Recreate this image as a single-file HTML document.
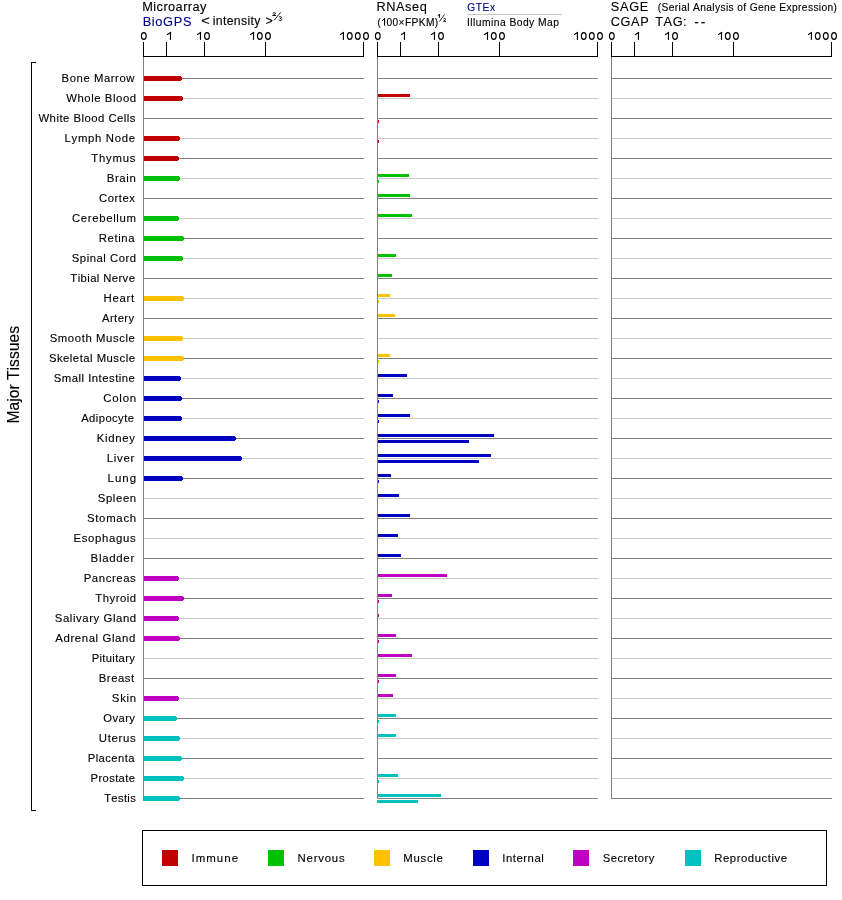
<!DOCTYPE html>
<html><head><meta charset="utf-8"><style>
html,body{margin:0;padding:0;background:#fff;}
svg{display:block;will-change:transform;}
text{font-family:"Liberation Sans",sans-serif;font-kerning:none;}
</style></head><body>
<svg width="842" height="900" viewBox="0 0 842 900">
<rect width="842" height="900" fill="#fff"/>
<text transform="translate(142.25,11) scale(1.0225,1)" font-size="12.5" fill="#000" stroke="#000" stroke-width="0.12" letter-spacing="0.425">Microarray</text>
<text transform="translate(142.65,26) scale(1.0253,1)" font-size="12.5" fill="#00008b" stroke="#00008b" stroke-width="0.12" letter-spacing="0.634">BioGPS</text>
<text transform="translate(201.28,24.6) scale(1.2178,1)" font-size="12" fill="#000" stroke="#000" stroke-width="0.12">&lt;</text>
<text transform="translate(212.68,24.8) scale(1.0220,1)" font-size="12" fill="#000" stroke="#000" stroke-width="0.12" letter-spacing="0.349">intensity</text>
<text transform="translate(265.39,24.6) scale(1.0291,1)" font-size="12" fill="#000" stroke="#000" stroke-width="0.12">&gt;</text>
<path d="M272.7,13.4 Q273.4,12.5 274.4,12.6 Q275.6,12.8 275.3,13.9 Q275,14.4 272.6,15.5 L276.1,15.5" stroke="#000" stroke-width="0.95" fill="none"/>
<path d="M278.8,17.2 Q279.6,16.5 280.5,16.6 Q281.7,16.8 281.4,17.8 Q281.1,18.4 279.9,18.5 Q281.9,18.7 281.8,19.6 Q281.5,20.6 280.2,20.5 Q279.2,20.5 278.6,19.8" stroke="#000" stroke-width="0.95" fill="none"/>
<path d="M280.6,12.4 L274.0,20.4" stroke="#000" stroke-width="0.9" fill="none"/>
<text transform="translate(376.45,11) scale(1.0211,1)" font-size="12.5" fill="#000" stroke="#000" stroke-width="0.12" letter-spacing="0.555">RNAseq</text>
<text transform="translate(377.39,26) scale(0.9806,1)" font-size="10" fill="#000" stroke="#000" stroke-width="0.12">(</text>
<rect x="384.0" y="18.1" width="1.1" height="7.5" fill="#000"/>
<path d="M384.8,18.4 L382.3,20.5" stroke="#000" stroke-width="1.0" fill="none" stroke-linecap="round"/>
<text transform="translate(386.50,26) scale(1.0193,1)" font-size="10" fill="#000" stroke="#000" stroke-width="0.12" letter-spacing="0.383">00×FPKM)</text>
<rect x="438.95" y="14.2" width="1.0" height="3.5" fill="#000"/>
<path d="M439.5,14.5 L438.0,15.5" stroke="#000" stroke-width="0.9" fill="none" stroke-linecap="round"/>
<path d="M444.5,14.4 L439.5,21.5" stroke="#000" stroke-width="0.85" fill="none"/>
<path d="M443.5,19.0 Q444.1,18.3 444.8,18.4 Q445.7,18.6 445.5,19.4 Q445.2,20.0 443.4,21.35 L446.0,21.35" stroke="#000" stroke-width="0.9" fill="none"/>
<text transform="translate(467.29,11) scale(1.0226,1)" font-size="10" fill="#00008b" stroke="#00008b" stroke-width="0.12" letter-spacing="0.551">GTEx</text>
<rect x="467" y="14" width="95" height="1" fill="#c8c8c8"/>
<text transform="translate(467.05,26) scale(1.0299,1)" font-size="10" fill="#000" stroke="#000" stroke-width="0.12" letter-spacing="0.441">Illumina Body Map</text>
<text transform="translate(610.82,11) scale(1.0206,1)" font-size="12.5" fill="#000" stroke="#000" stroke-width="0.12" letter-spacing="0.678">SAGE</text>
<text transform="translate(657.76,11) scale(1.0258,1)" font-size="10" fill="#000" stroke="#000" stroke-width="0.12" letter-spacing="0.349">(Serial Analysis of Gene Expression)</text>
<text transform="translate(610.75,26) scale(1.0181,1)" font-size="12.5" fill="#000" stroke="#000" stroke-width="0.12" letter-spacing="0.606">CGAP</text>
<text transform="translate(655.31,26) scale(1.0194,1)" font-size="12.5" fill="#000" stroke="#000" stroke-width="0.12" letter-spacing="0.528">TAG:</text>
<text transform="translate(694.19,26) scale(1.0965,1)" font-size="12.5" fill="#000" stroke="#000" stroke-width="0.12" letter-spacing="1.905">--</text>
<rect x="143" y="78" width="221" height="1" fill="#808080"/>
<rect x="143" y="98" width="221" height="1" fill="#c8c8c8"/>
<rect x="143" y="118" width="221" height="1" fill="#808080"/>
<rect x="143" y="138" width="221" height="1" fill="#c8c8c8"/>
<rect x="143" y="158" width="221" height="1" fill="#808080"/>
<rect x="143" y="178" width="221" height="1" fill="#c8c8c8"/>
<rect x="143" y="198" width="221" height="1" fill="#808080"/>
<rect x="143" y="218" width="221" height="1" fill="#c8c8c8"/>
<rect x="143" y="238" width="221" height="1" fill="#808080"/>
<rect x="143" y="258" width="221" height="1" fill="#c8c8c8"/>
<rect x="143" y="278" width="221" height="1" fill="#808080"/>
<rect x="143" y="298" width="221" height="1" fill="#c8c8c8"/>
<rect x="143" y="318" width="221" height="1" fill="#808080"/>
<rect x="143" y="338" width="221" height="1" fill="#c8c8c8"/>
<rect x="143" y="358" width="221" height="1" fill="#808080"/>
<rect x="143" y="378" width="221" height="1" fill="#c8c8c8"/>
<rect x="143" y="398" width="221" height="1" fill="#808080"/>
<rect x="143" y="418" width="221" height="1" fill="#c8c8c8"/>
<rect x="143" y="438" width="221" height="1" fill="#808080"/>
<rect x="143" y="458" width="221" height="1" fill="#c8c8c8"/>
<rect x="143" y="478" width="221" height="1" fill="#808080"/>
<rect x="143" y="498" width="221" height="1" fill="#c8c8c8"/>
<rect x="143" y="518" width="221" height="1" fill="#808080"/>
<rect x="143" y="538" width="221" height="1" fill="#c8c8c8"/>
<rect x="143" y="558" width="221" height="1" fill="#808080"/>
<rect x="143" y="578" width="221" height="1" fill="#c8c8c8"/>
<rect x="143" y="598" width="221" height="1" fill="#808080"/>
<rect x="143" y="618" width="221" height="1" fill="#c8c8c8"/>
<rect x="143" y="638" width="221" height="1" fill="#808080"/>
<rect x="143" y="658" width="221" height="1" fill="#c8c8c8"/>
<rect x="143" y="678" width="221" height="1" fill="#808080"/>
<rect x="143" y="698" width="221" height="1" fill="#c8c8c8"/>
<rect x="143" y="718" width="221" height="1" fill="#808080"/>
<rect x="143" y="738" width="221" height="1" fill="#c8c8c8"/>
<rect x="143" y="758" width="221" height="1" fill="#808080"/>
<rect x="143" y="778" width="221" height="1" fill="#c8c8c8"/>
<rect x="143" y="798" width="221" height="1" fill="#808080"/>
<rect x="143" y="56" width="221" height="1" fill="#000"/>
<rect x="143" y="42" width="1" height="15" fill="#000"/>
<rect x="166" y="42" width="1" height="15" fill="#000"/>
<rect x="204" y="42" width="1" height="15" fill="#000"/>
<rect x="265" y="42" width="1" height="15" fill="#000"/>
<rect x="363" y="42" width="1" height="15" fill="#000"/>
<ellipse cx="143.80" cy="35.95" rx="2.38" ry="3.38" fill="none" stroke="#000" stroke-width="1.15"/>
<rect x="169.87" y="32" width="1.16" height="7.9" fill="#000"/>
<path d="M170.65,32.4 L167.50,34.5" stroke="#000" stroke-width="1.1" fill="none" stroke-linecap="round"/>
<rect x="199.88" y="32" width="1.16" height="7.9" fill="#000"/>
<path d="M200.66,32.4 L197.51,34.5" stroke="#000" stroke-width="1.1" fill="none" stroke-linecap="round"/>
<ellipse cx="207.00" cy="35.95" rx="2.38" ry="3.38" fill="none" stroke="#000" stroke-width="1.15"/>
<rect x="252.92" y="32" width="1.16" height="7.9" fill="#000"/>
<path d="M253.70,32.4 L250.55,34.5" stroke="#000" stroke-width="1.1" fill="none" stroke-linecap="round"/>
<ellipse cx="259.80" cy="35.95" rx="2.38" ry="3.38" fill="none" stroke="#000" stroke-width="1.15"/>
<ellipse cx="267.95" cy="35.95" rx="2.38" ry="3.38" fill="none" stroke="#000" stroke-width="1.15"/>
<rect x="342.82" y="32" width="1.16" height="7.9" fill="#000"/>
<path d="M343.60,32.4 L340.45,34.5" stroke="#000" stroke-width="1.1" fill="none" stroke-linecap="round"/>
<ellipse cx="349.75" cy="35.95" rx="2.38" ry="3.38" fill="none" stroke="#000" stroke-width="1.15"/>
<ellipse cx="357.80" cy="35.95" rx="2.38" ry="3.38" fill="none" stroke="#000" stroke-width="1.15"/>
<ellipse cx="366.00" cy="35.95" rx="2.38" ry="3.38" fill="none" stroke="#000" stroke-width="1.15"/>
<rect x="377" y="78" width="221" height="1" fill="#808080"/>
<rect x="377" y="98" width="221" height="1" fill="#c8c8c8"/>
<rect x="377" y="118" width="221" height="1" fill="#808080"/>
<rect x="377" y="138" width="221" height="1" fill="#c8c8c8"/>
<rect x="377" y="158" width="221" height="1" fill="#808080"/>
<rect x="377" y="178" width="221" height="1" fill="#c8c8c8"/>
<rect x="377" y="198" width="221" height="1" fill="#808080"/>
<rect x="377" y="218" width="221" height="1" fill="#c8c8c8"/>
<rect x="377" y="238" width="221" height="1" fill="#808080"/>
<rect x="377" y="258" width="221" height="1" fill="#c8c8c8"/>
<rect x="377" y="278" width="221" height="1" fill="#808080"/>
<rect x="377" y="298" width="221" height="1" fill="#c8c8c8"/>
<rect x="377" y="318" width="221" height="1" fill="#808080"/>
<rect x="377" y="338" width="221" height="1" fill="#c8c8c8"/>
<rect x="377" y="358" width="221" height="1" fill="#808080"/>
<rect x="377" y="378" width="221" height="1" fill="#c8c8c8"/>
<rect x="377" y="398" width="221" height="1" fill="#808080"/>
<rect x="377" y="418" width="221" height="1" fill="#c8c8c8"/>
<rect x="377" y="438" width="221" height="1" fill="#808080"/>
<rect x="377" y="458" width="221" height="1" fill="#c8c8c8"/>
<rect x="377" y="478" width="221" height="1" fill="#808080"/>
<rect x="377" y="498" width="221" height="1" fill="#c8c8c8"/>
<rect x="377" y="518" width="221" height="1" fill="#808080"/>
<rect x="377" y="538" width="221" height="1" fill="#c8c8c8"/>
<rect x="377" y="558" width="221" height="1" fill="#808080"/>
<rect x="377" y="578" width="221" height="1" fill="#c8c8c8"/>
<rect x="377" y="598" width="221" height="1" fill="#808080"/>
<rect x="377" y="618" width="221" height="1" fill="#c8c8c8"/>
<rect x="377" y="638" width="221" height="1" fill="#808080"/>
<rect x="377" y="658" width="221" height="1" fill="#c8c8c8"/>
<rect x="377" y="678" width="221" height="1" fill="#808080"/>
<rect x="377" y="698" width="221" height="1" fill="#c8c8c8"/>
<rect x="377" y="718" width="221" height="1" fill="#808080"/>
<rect x="377" y="738" width="221" height="1" fill="#c8c8c8"/>
<rect x="377" y="758" width="221" height="1" fill="#808080"/>
<rect x="377" y="778" width="221" height="1" fill="#c8c8c8"/>
<rect x="377" y="798" width="221" height="1" fill="#808080"/>
<rect x="377" y="56" width="221" height="1" fill="#000"/>
<rect x="377" y="42" width="1" height="15" fill="#000"/>
<rect x="400" y="42" width="1" height="15" fill="#000"/>
<rect x="438" y="42" width="1" height="15" fill="#000"/>
<rect x="499" y="42" width="1" height="15" fill="#000"/>
<rect x="597" y="42" width="1" height="15" fill="#000"/>
<ellipse cx="377.80" cy="35.95" rx="2.38" ry="3.38" fill="none" stroke="#000" stroke-width="1.15"/>
<rect x="403.87" y="32" width="1.16" height="7.9" fill="#000"/>
<path d="M404.65,32.4 L401.50,34.5" stroke="#000" stroke-width="1.1" fill="none" stroke-linecap="round"/>
<rect x="433.88" y="32" width="1.16" height="7.9" fill="#000"/>
<path d="M434.66,32.4 L431.51,34.5" stroke="#000" stroke-width="1.1" fill="none" stroke-linecap="round"/>
<ellipse cx="441.00" cy="35.95" rx="2.38" ry="3.38" fill="none" stroke="#000" stroke-width="1.15"/>
<rect x="486.92" y="32" width="1.16" height="7.9" fill="#000"/>
<path d="M487.70,32.4 L484.55,34.5" stroke="#000" stroke-width="1.1" fill="none" stroke-linecap="round"/>
<ellipse cx="493.80" cy="35.95" rx="2.38" ry="3.38" fill="none" stroke="#000" stroke-width="1.15"/>
<ellipse cx="501.95" cy="35.95" rx="2.38" ry="3.38" fill="none" stroke="#000" stroke-width="1.15"/>
<rect x="576.82" y="32" width="1.16" height="7.9" fill="#000"/>
<path d="M577.60,32.4 L574.45,34.5" stroke="#000" stroke-width="1.1" fill="none" stroke-linecap="round"/>
<ellipse cx="583.75" cy="35.95" rx="2.38" ry="3.38" fill="none" stroke="#000" stroke-width="1.15"/>
<ellipse cx="591.80" cy="35.95" rx="2.38" ry="3.38" fill="none" stroke="#000" stroke-width="1.15"/>
<ellipse cx="600.00" cy="35.95" rx="2.38" ry="3.38" fill="none" stroke="#000" stroke-width="1.15"/>
<rect x="611" y="78" width="221" height="1" fill="#808080"/>
<rect x="611" y="98" width="221" height="1" fill="#c8c8c8"/>
<rect x="611" y="118" width="221" height="1" fill="#808080"/>
<rect x="611" y="138" width="221" height="1" fill="#c8c8c8"/>
<rect x="611" y="158" width="221" height="1" fill="#808080"/>
<rect x="611" y="178" width="221" height="1" fill="#c8c8c8"/>
<rect x="611" y="198" width="221" height="1" fill="#808080"/>
<rect x="611" y="218" width="221" height="1" fill="#c8c8c8"/>
<rect x="611" y="238" width="221" height="1" fill="#808080"/>
<rect x="611" y="258" width="221" height="1" fill="#c8c8c8"/>
<rect x="611" y="278" width="221" height="1" fill="#808080"/>
<rect x="611" y="298" width="221" height="1" fill="#c8c8c8"/>
<rect x="611" y="318" width="221" height="1" fill="#808080"/>
<rect x="611" y="338" width="221" height="1" fill="#c8c8c8"/>
<rect x="611" y="358" width="221" height="1" fill="#808080"/>
<rect x="611" y="378" width="221" height="1" fill="#c8c8c8"/>
<rect x="611" y="398" width="221" height="1" fill="#808080"/>
<rect x="611" y="418" width="221" height="1" fill="#c8c8c8"/>
<rect x="611" y="438" width="221" height="1" fill="#808080"/>
<rect x="611" y="458" width="221" height="1" fill="#c8c8c8"/>
<rect x="611" y="478" width="221" height="1" fill="#808080"/>
<rect x="611" y="498" width="221" height="1" fill="#c8c8c8"/>
<rect x="611" y="518" width="221" height="1" fill="#808080"/>
<rect x="611" y="538" width="221" height="1" fill="#c8c8c8"/>
<rect x="611" y="558" width="221" height="1" fill="#808080"/>
<rect x="611" y="578" width="221" height="1" fill="#c8c8c8"/>
<rect x="611" y="598" width="221" height="1" fill="#808080"/>
<rect x="611" y="618" width="221" height="1" fill="#c8c8c8"/>
<rect x="611" y="638" width="221" height="1" fill="#808080"/>
<rect x="611" y="658" width="221" height="1" fill="#c8c8c8"/>
<rect x="611" y="678" width="221" height="1" fill="#808080"/>
<rect x="611" y="698" width="221" height="1" fill="#c8c8c8"/>
<rect x="611" y="718" width="221" height="1" fill="#808080"/>
<rect x="611" y="738" width="221" height="1" fill="#c8c8c8"/>
<rect x="611" y="758" width="221" height="1" fill="#808080"/>
<rect x="611" y="778" width="221" height="1" fill="#c8c8c8"/>
<rect x="611" y="798" width="221" height="1" fill="#808080"/>
<rect x="611" y="56" width="221" height="1" fill="#000"/>
<rect x="611" y="42" width="1" height="15" fill="#000"/>
<rect x="634" y="42" width="1" height="15" fill="#000"/>
<rect x="672" y="42" width="1" height="15" fill="#000"/>
<rect x="733" y="42" width="1" height="15" fill="#000"/>
<rect x="831" y="42" width="1" height="15" fill="#000"/>
<ellipse cx="611.80" cy="35.95" rx="2.38" ry="3.38" fill="none" stroke="#000" stroke-width="1.15"/>
<rect x="637.87" y="32" width="1.16" height="7.9" fill="#000"/>
<path d="M638.65,32.4 L635.50,34.5" stroke="#000" stroke-width="1.1" fill="none" stroke-linecap="round"/>
<rect x="667.88" y="32" width="1.16" height="7.9" fill="#000"/>
<path d="M668.66,32.4 L665.51,34.5" stroke="#000" stroke-width="1.1" fill="none" stroke-linecap="round"/>
<ellipse cx="675.00" cy="35.95" rx="2.38" ry="3.38" fill="none" stroke="#000" stroke-width="1.15"/>
<rect x="720.92" y="32" width="1.16" height="7.9" fill="#000"/>
<path d="M721.70,32.4 L718.55,34.5" stroke="#000" stroke-width="1.1" fill="none" stroke-linecap="round"/>
<ellipse cx="727.80" cy="35.95" rx="2.38" ry="3.38" fill="none" stroke="#000" stroke-width="1.15"/>
<ellipse cx="735.95" cy="35.95" rx="2.38" ry="3.38" fill="none" stroke="#000" stroke-width="1.15"/>
<rect x="810.82" y="32" width="1.16" height="7.9" fill="#000"/>
<path d="M811.60,32.4 L808.45,34.5" stroke="#000" stroke-width="1.1" fill="none" stroke-linecap="round"/>
<ellipse cx="817.75" cy="35.95" rx="2.38" ry="3.38" fill="none" stroke="#000" stroke-width="1.15"/>
<ellipse cx="825.80" cy="35.95" rx="2.38" ry="3.38" fill="none" stroke="#000" stroke-width="1.15"/>
<ellipse cx="834.00" cy="35.95" rx="2.38" ry="3.38" fill="none" stroke="#000" stroke-width="1.15"/>
<rect x="143" y="76" width="38" height="5" fill="#c00000"/>
<rect x="181" y="77" width="1" height="3" fill="#c00000"/>
<rect x="143" y="96" width="39" height="5" fill="#c00000"/>
<rect x="182" y="97" width="1" height="3" fill="#c00000"/>
<rect x="377" y="94" width="33" height="3" fill="#c00000"/>
<rect x="377" y="120" width="2" height="3" fill="#c00000"/>
<rect x="143" y="136" width="36" height="5" fill="#c00000"/>
<rect x="179" y="137" width="1" height="3" fill="#c00000"/>
<rect x="377" y="140" width="2" height="3" fill="#c00000"/>
<rect x="143" y="156" width="35" height="5" fill="#c00000"/>
<rect x="178" y="157" width="1" height="3" fill="#c00000"/>
<rect x="143" y="176" width="36" height="5" fill="#00c000"/>
<rect x="179" y="177" width="1" height="3" fill="#00c000"/>
<rect x="377" y="174" width="32" height="3" fill="#00c000"/>
<rect x="377" y="180" width="2" height="3" fill="#00c000"/>
<rect x="377" y="194" width="33" height="3" fill="#00c000"/>
<rect x="143" y="216" width="35" height="5" fill="#00c000"/>
<rect x="178" y="217" width="1" height="3" fill="#00c000"/>
<rect x="377" y="214" width="35" height="3" fill="#00c000"/>
<rect x="143" y="236" width="40" height="5" fill="#00c000"/>
<rect x="183" y="237" width="1" height="3" fill="#00c000"/>
<rect x="143" y="256" width="39" height="5" fill="#00c000"/>
<rect x="182" y="257" width="1" height="3" fill="#00c000"/>
<rect x="377" y="254" width="19" height="3" fill="#00c000"/>
<rect x="377" y="274" width="15" height="3" fill="#00c000"/>
<rect x="143" y="296" width="40" height="5" fill="#ffc000"/>
<rect x="183" y="297" width="1" height="3" fill="#ffc000"/>
<rect x="377" y="294" width="13" height="3" fill="#ffc000"/>
<rect x="377" y="300" width="2" height="3" fill="#ffc000"/>
<rect x="377" y="314" width="18" height="3" fill="#ffc000"/>
<rect x="143" y="336" width="39" height="5" fill="#ffc000"/>
<rect x="182" y="337" width="1" height="3" fill="#ffc000"/>
<rect x="143" y="356" width="40" height="5" fill="#ffc000"/>
<rect x="183" y="357" width="1" height="3" fill="#ffc000"/>
<rect x="377" y="354" width="13" height="3" fill="#ffc000"/>
<rect x="377" y="360" width="2" height="3" fill="#ffc000"/>
<rect x="143" y="376" width="37" height="5" fill="#0000c0"/>
<rect x="180" y="377" width="1" height="3" fill="#0000c0"/>
<rect x="377" y="374" width="30" height="3" fill="#0000c0"/>
<rect x="143" y="396" width="38" height="5" fill="#0000c0"/>
<rect x="181" y="397" width="1" height="3" fill="#0000c0"/>
<rect x="377" y="394" width="16" height="3" fill="#0000c0"/>
<rect x="377" y="400" width="2" height="3" fill="#0000c0"/>
<rect x="143" y="416" width="38" height="5" fill="#0000c0"/>
<rect x="181" y="417" width="1" height="3" fill="#0000c0"/>
<rect x="377" y="414" width="33" height="3" fill="#0000c0"/>
<rect x="377" y="420" width="2" height="3" fill="#0000c0"/>
<rect x="143" y="436" width="92" height="5" fill="#0000c0"/>
<rect x="235" y="437" width="1" height="3" fill="#0000c0"/>
<rect x="377" y="434" width="117" height="3" fill="#0000c0"/>
<rect x="377" y="440" width="92" height="3" fill="#0000c0"/>
<rect x="143" y="456" width="98" height="5" fill="#0000c0"/>
<rect x="241" y="457" width="1" height="3" fill="#0000c0"/>
<rect x="377" y="454" width="114" height="3" fill="#0000c0"/>
<rect x="377" y="460" width="102" height="3" fill="#0000c0"/>
<rect x="143" y="476" width="39" height="5" fill="#0000c0"/>
<rect x="182" y="477" width="1" height="3" fill="#0000c0"/>
<rect x="377" y="474" width="14" height="3" fill="#0000c0"/>
<rect x="377" y="480" width="2" height="3" fill="#0000c0"/>
<rect x="377" y="494" width="22" height="3" fill="#0000c0"/>
<rect x="377" y="514" width="33" height="3" fill="#0000c0"/>
<rect x="377" y="534" width="21" height="3" fill="#0000c0"/>
<rect x="377" y="554" width="24" height="3" fill="#0000c0"/>
<rect x="143" y="576" width="35" height="5" fill="#c000c0"/>
<rect x="178" y="577" width="1" height="3" fill="#c000c0"/>
<rect x="377" y="574" width="70" height="3" fill="#c000c0"/>
<rect x="143" y="596" width="40" height="5" fill="#c000c0"/>
<rect x="183" y="597" width="1" height="3" fill="#c000c0"/>
<rect x="377" y="594" width="15" height="3" fill="#c000c0"/>
<rect x="377" y="600" width="2" height="3" fill="#c000c0"/>
<rect x="143" y="616" width="35" height="5" fill="#c000c0"/>
<rect x="178" y="617" width="1" height="3" fill="#c000c0"/>
<rect x="377" y="614" width="2" height="3" fill="#c000c0"/>
<rect x="143" y="636" width="36" height="5" fill="#c000c0"/>
<rect x="179" y="637" width="1" height="3" fill="#c000c0"/>
<rect x="377" y="634" width="19" height="3" fill="#c000c0"/>
<rect x="377" y="640" width="2" height="3" fill="#c000c0"/>
<rect x="377" y="654" width="35" height="3" fill="#c000c0"/>
<rect x="377" y="674" width="19" height="3" fill="#c000c0"/>
<rect x="377" y="680" width="2" height="3" fill="#c000c0"/>
<rect x="143" y="696" width="35" height="5" fill="#c000c0"/>
<rect x="178" y="697" width="1" height="3" fill="#c000c0"/>
<rect x="377" y="694" width="16" height="3" fill="#c000c0"/>
<rect x="143" y="716" width="33" height="5" fill="#00c0c0"/>
<rect x="176" y="717" width="1" height="3" fill="#00c0c0"/>
<rect x="377" y="714" width="19" height="3" fill="#00c0c0"/>
<rect x="377" y="720" width="2" height="3" fill="#00c0c0"/>
<rect x="143" y="736" width="36" height="5" fill="#00c0c0"/>
<rect x="179" y="737" width="1" height="3" fill="#00c0c0"/>
<rect x="377" y="734" width="19" height="3" fill="#00c0c0"/>
<rect x="143" y="756" width="38" height="5" fill="#00c0c0"/>
<rect x="181" y="757" width="1" height="3" fill="#00c0c0"/>
<rect x="143" y="776" width="40" height="5" fill="#00c0c0"/>
<rect x="183" y="777" width="1" height="3" fill="#00c0c0"/>
<rect x="377" y="774" width="21" height="3" fill="#00c0c0"/>
<rect x="377" y="780" width="2" height="3" fill="#00c0c0"/>
<rect x="143" y="796" width="36" height="5" fill="#00c0c0"/>
<rect x="179" y="797" width="1" height="3" fill="#00c0c0"/>
<rect x="377" y="794" width="64" height="3" fill="#00c0c0"/>
<rect x="377" y="800" width="41" height="3" fill="#00c0c0"/>
<rect x="143" y="57" width="1" height="741" fill="#808080"/>
<rect x="377" y="57" width="1" height="741" fill="#808080"/>
<rect x="611" y="57" width="1" height="741" fill="#808080"/>
<text transform="translate(61.57,82) scale(1.0289,1)" font-size="11" fill="#000" stroke="#000" stroke-width="0.12" letter-spacing="0.544">Bone Marrow</text>
<text transform="translate(66.15,102) scale(1.0308,1)" font-size="11" fill="#000" stroke="#000" stroke-width="0.12" letter-spacing="0.552">Whole Blood</text>
<text transform="translate(38.45,122) scale(1.0299,1)" font-size="11" fill="#000" stroke="#000" stroke-width="0.12" letter-spacing="0.470">White Blood Cells</text>
<text transform="translate(64.57,142) scale(1.0329,1)" font-size="11" fill="#000" stroke="#000" stroke-width="0.12" letter-spacing="0.647">Lymph Node</text>
<text transform="translate(91.24,162) scale(1.0340,1)" font-size="11" fill="#000" stroke="#000" stroke-width="0.12" letter-spacing="0.758">Thymus</text>
<text transform="translate(106.66,182) scale(1.0368,1)" font-size="11" fill="#000" stroke="#000" stroke-width="0.12" letter-spacing="0.640">Brain</text>
<text transform="translate(99.08,202) scale(1.0278,1)" font-size="11" fill="#000" stroke="#000" stroke-width="0.12" letter-spacing="0.515">Cortex</text>
<text transform="translate(72.02,222) scale(1.0347,1)" font-size="11" fill="#000" stroke="#000" stroke-width="0.12" letter-spacing="0.615">Cerebellum</text>
<text transform="translate(98.72,242) scale(1.0320,1)" font-size="11" fill="#000" stroke="#000" stroke-width="0.12" letter-spacing="0.575">Retina</text>
<text transform="translate(71.79,262) scale(1.0304,1)" font-size="11" fill="#000" stroke="#000" stroke-width="0.12" letter-spacing="0.497">Spinal Cord</text>
<text transform="translate(70.35,282) scale(1.0257,1)" font-size="11" fill="#000" stroke="#000" stroke-width="0.12" letter-spacing="0.396">Tibial Nerve</text>
<text transform="translate(103.46,302) scale(1.0365,1)" font-size="11" fill="#000" stroke="#000" stroke-width="0.12" letter-spacing="0.685">Heart</text>
<text transform="translate(101.98,322) scale(1.0239,1)" font-size="11" fill="#000" stroke="#000" stroke-width="0.12" letter-spacing="0.411">Artery</text>
<text transform="translate(49.68,342) scale(1.0317,1)" font-size="11" fill="#000" stroke="#000" stroke-width="0.12" letter-spacing="0.574">Smooth Muscle</text>
<text transform="translate(48.89,362) scale(1.0298,1)" font-size="11" fill="#000" stroke="#000" stroke-width="0.12" letter-spacing="0.471">Skeletal Muscle</text>
<text transform="translate(53.78,382) scale(1.0318,1)" font-size="11" fill="#000" stroke="#000" stroke-width="0.12" letter-spacing="0.470">Small Intestine</text>
<text transform="translate(103.17,402) scale(1.0381,1)" font-size="11" fill="#000" stroke="#000" stroke-width="0.12" letter-spacing="0.755">Colon</text>
<text transform="translate(81.18,422) scale(1.0236,1)" font-size="11" fill="#000" stroke="#000" stroke-width="0.12" letter-spacing="0.412">Adipocyte</text>
<text transform="translate(96.67,442) scale(1.0351,1)" font-size="11" fill="#000" stroke="#000" stroke-width="0.12" letter-spacing="0.665">Kidney</text>
<text transform="translate(106.66,462) scale(1.0411,1)" font-size="11" fill="#000" stroke="#000" stroke-width="0.12" letter-spacing="0.674">Liver</text>
<text transform="translate(107.56,482) scale(1.0442,1)" font-size="11" fill="#000" stroke="#000" stroke-width="0.12" letter-spacing="0.967">Lung</text>
<text transform="translate(97.79,502) scale(1.0307,1)" font-size="11" fill="#000" stroke="#000" stroke-width="0.12" letter-spacing="0.591">Spleen</text>
<text transform="translate(86.88,522) scale(1.0344,1)" font-size="11" fill="#000" stroke="#000" stroke-width="0.12" letter-spacing="0.701">Stomach</text>
<text transform="translate(73.47,542) scale(1.0338,1)" font-size="11" fill="#000" stroke="#000" stroke-width="0.12" letter-spacing="0.658">Esophagus</text>
<text transform="translate(90.56,562) scale(1.0392,1)" font-size="11" fill="#000" stroke="#000" stroke-width="0.12" letter-spacing="0.694">Bladder</text>
<text transform="translate(83.67,582) scale(1.0312,1)" font-size="11" fill="#000" stroke="#000" stroke-width="0.12" letter-spacing="0.585">Pancreas</text>
<text transform="translate(95.35,602) scale(1.0285,1)" font-size="11" fill="#000" stroke="#000" stroke-width="0.12" letter-spacing="0.495">Thyroid</text>
<text transform="translate(54.78,622) scale(1.0348,1)" font-size="11" fill="#000" stroke="#000" stroke-width="0.12" letter-spacing="0.545">Salivary Gland</text>
<text transform="translate(55.28,642) scale(1.0345,1)" font-size="11" fill="#000" stroke="#000" stroke-width="0.12" letter-spacing="0.580">Adrenal Gland</text>
<text transform="translate(91.63,662) scale(1.0228,1)" font-size="11" fill="#000" stroke="#000" stroke-width="0.12" letter-spacing="0.324">Pituitary</text>
<text transform="translate(98.72,682) scale(1.0295,1)" font-size="11" fill="#000" stroke="#000" stroke-width="0.12" letter-spacing="0.531">Breast</text>
<text transform="translate(111.83,702) scale(1.0355,1)" font-size="11" fill="#000" stroke="#000" stroke-width="0.12" letter-spacing="0.692">Skin</text>
<text transform="translate(103.22,722) scale(1.0205,1)" font-size="11" fill="#000" stroke="#000" stroke-width="0.12" letter-spacing="0.433">Ovary</text>
<text transform="translate(98.77,742) scale(1.0369,1)" font-size="11" fill="#000" stroke="#000" stroke-width="0.12" letter-spacing="0.665">Uterus</text>
<text transform="translate(87.78,762) scale(1.0232,1)" font-size="11" fill="#000" stroke="#000" stroke-width="0.12" letter-spacing="0.408">Placenta</text>
<text transform="translate(90.58,782) scale(1.0216,1)" font-size="11" fill="#000" stroke="#000" stroke-width="0.12" letter-spacing="0.359">Prostate</text>
<text transform="translate(104.15,802) scale(1.0201,1)" font-size="11" fill="#000" stroke="#000" stroke-width="0.12" letter-spacing="0.339">Testis</text>
<rect x="31" y="62" width="1" height="749" fill="#000"/>
<rect x="31" y="62" width="5" height="1" fill="#000"/>
<rect x="31" y="810" width="5" height="1" fill="#000"/>
<text transform="translate(19.2,423.59) rotate(-90) scale(0.9510,1)" font-size="16.5" fill="#000" stroke="#000" stroke-width="0.12">Major Tissues</text>
<rect x="142.5" y="830.5" width="684" height="55" fill="none" stroke="#000" stroke-width="1"/>
<rect x="162" y="850" width="16" height="16" fill="#c00000"/>
<text transform="translate(191.44,862) scale(1.0449,1)" font-size="11" fill="#000" stroke="#000" stroke-width="0.12" letter-spacing="0.986">Immune</text>
<rect x="268" y="850" width="16" height="16" fill="#00c000"/>
<text transform="translate(297.56,862) scale(1.0387,1)" font-size="11" fill="#000" stroke="#000" stroke-width="0.12" letter-spacing="0.739">Nervous</text>
<rect x="374" y="850" width="16" height="16" fill="#ffc000"/>
<text transform="translate(403.27,862) scale(1.0355,1)" font-size="11" fill="#000" stroke="#000" stroke-width="0.12" letter-spacing="0.688">Muscle</text>
<rect x="473" y="850" width="16" height="16" fill="#0000c0"/>
<text transform="translate(502.25,862) scale(1.0348,1)" font-size="11" fill="#000" stroke="#000" stroke-width="0.12" letter-spacing="0.503">Internal</text>
<rect x="573" y="850" width="16" height="16" fill="#c000c0"/>
<text transform="translate(602.79,862) scale(1.0239,1)" font-size="11" fill="#000" stroke="#000" stroke-width="0.12" letter-spacing="0.407">Secretory</text>
<rect x="685" y="850" width="16" height="16" fill="#00c0c0"/>
<text transform="translate(714.27,862) scale(1.0314,1)" font-size="11" fill="#000" stroke="#000" stroke-width="0.12" letter-spacing="0.527">Reproductive</text>
</svg>
</body></html>
